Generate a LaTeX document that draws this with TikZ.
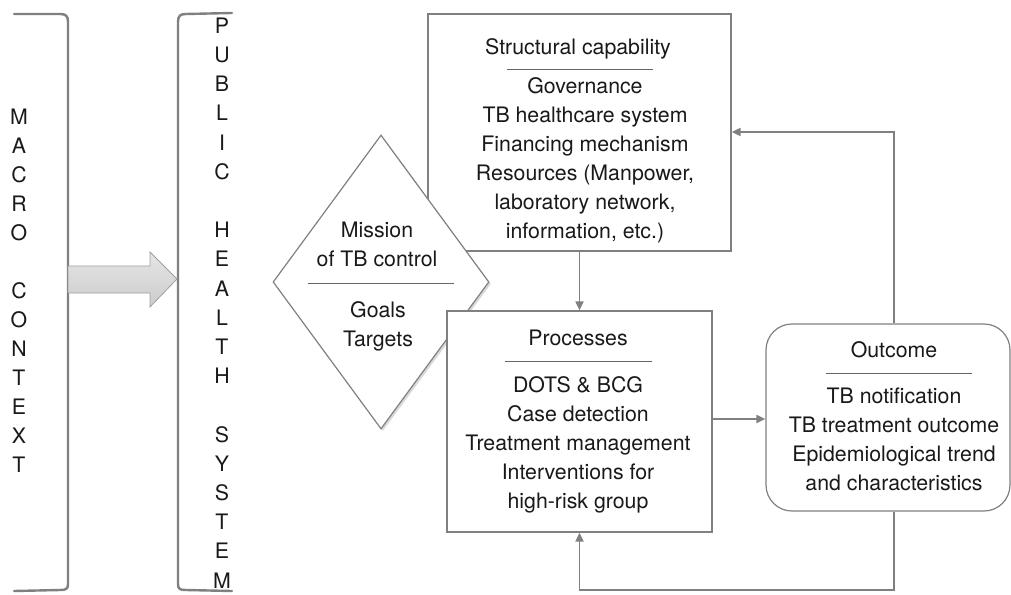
\documentclass[tikz,border=0pt]{standalone}
\usepackage{fontspec}
\setmainfont{TeX Gyre Heros}
\usetikzlibrary{arrows.meta,shapes.geometric,shadows}

\begin{document}
\begin{tikzpicture}[x=1pt, y=-1pt,
  box/.style={draw=gray, line width=1.2pt, fill=white, inner sep=0pt},
  txt/.style={font=\fontsize{21.3}{29}\selectfont, text=black!90, align=center, inner sep=0pt},
  sep/.style={draw=black!60, line width=0.8pt},
  flow/.style={draw=gray, line width=1.8pt, -{Triangle[length=9pt,width=8pt]}},
  brk/.style={draw=gray, line width=2.4pt, line cap=round}]
  \useasboundingbox (0,0) rectangle (1011,594);

  % brackets and the fat arrow
  \draw[brk] (14,14) -- (60,14) .. controls (66,14) and (68,16) .. (68,22) -- (68,584) .. controls (68,589) and (66,590) .. (60,590) -- (14,591);
  \draw[brk] (232,13) -- (186,14) .. controls (180,14) and (178,16) .. (178,22) -- (178,584) .. controls (178,589) and (180,590) .. (186,590) -- (232,591);
  \draw[gray!75, line width=0.8pt, top color=gray!20, middle color=gray!8, bottom color=gray!40] (68,266) -- (150,266) -- (150,252) -- (177,279) -- (150,307) -- (150,293) -- (68,293) -- cycle;
  \node[txt] (macro) at (19,291) {M\\A\\C\\R\\O\\[29pt]C\\O\\N\\T\\E\\X\\T};
  \node[txt, font=\fontsize{21.3}{29.2}\selectfont] (phs) at (222,303) {P\\U\\B\\L\\I\\C\\[29.2pt]H\\E\\A\\L\\T\\H\\[29.2pt]S\\Y\\S\\T\\E\\M};

  % structural capability
  \node[box, minimum width=303pt, minimum height=237pt] (struct) at (579.5,132.5) {};
  \node[txt] (structhead) at (578,49) {Structural capability};
  \draw[sep] (507,69) -- (653,69);
  \node[txt] (structbody) at (585,160.7) {Governance\\TB healthcare system\\Financing mechanism\\Resources (Manpower,\\laboratory network,\\information, etc.)};

  % mission
  \node[diamond, draw=gray, line width=1.2pt, fill=white, inner sep=0pt, minimum width=216pt, minimum height=294pt,
    drop shadow={shadow xshift=2pt, shadow yshift=-2pt, opacity=0.3}] (mission) at (381,282) {};
  \node[txt] (missionhead) at (377,244.5) {Mission\\of TB control};
  \draw[sep] (308,283) -- (454,283);
  \node[txt] (missionbody) at (378,326.7) {Goals\\Targets};

  % processes
  \node[box, minimum width=265pt, minimum height=221pt] (proc) at (579.5,421.5) {};
  \node[txt] (prochead) at (578,338) {Processes};
  \draw[sep] (505,361) -- (652,361);
  \node[txt] (procbody) at (578,445) {DOTS \& BCG\\Case detection\\Treatment management\\Interventions for\\high-risk group};

  % outcome
  \node[box, rounded corners=26pt, minimum width=244pt, minimum height=187pt] (outcome) at (888,417.5) {};
  \node[txt] (outhead) at (894,350) {Outcome};
  \draw[sep] (826,373) -- (972,373);
  \node[txt] (outbody) at (894,439) {TB notification\\TB treatment outcome\\Epidemiological trend\\and characteristics};

  % connectors
  \coordinate (mid) at (740,419);
  \coordinate (loopup) at (894,132);
  \coordinate (loopdown) at (894,590);
  \draw[flow] (struct.south) -- (proc.north);
  \draw[flow] (proc.east |- mid) -- (outcome.west |- mid);
  \draw[flow] (outcome.north -| loopup) -- (loopup) -- (struct.east |- loopup);
  \draw[flow] (outcome.south -| loopdown) -- (loopdown) -| (proc.south);
\end{tikzpicture}
\end{document}
